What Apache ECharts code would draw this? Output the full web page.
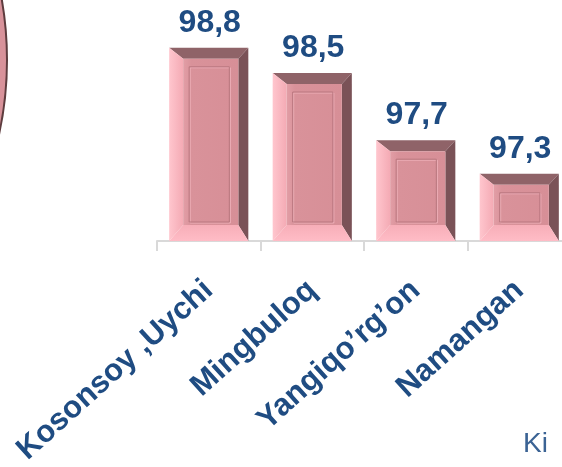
<!DOCTYPE html>
<html>
<head>
<meta charset="utf-8">
<title></title>
<style>
  html, body { margin: 0; padding: 0; background: #fff; }
  #chart { width: 562px; height: 467px; }
</style>
</head>
<body>
<div id="chart"></div>
<script src="https://cdn.jsdelivr.net/npm/echarts@6/dist/echarts.min.js"></script>
<script>
// data
var categories = ['Kosonsoy ,Uychi', 'Mingbuloq', 'Yangiqo\u2019rg\u2019on', 'Namangan'];
var values = [98.8, 98.5, 97.7, 97.3];
var yMin = 96.5, yMax = 99;

var blue = '#1f4c82';

// draws one bevelled "3d" bar plus its value on top
function renderBar(params, api) {
  var top = api.coord([api.value(0), api.value(1)]);
  var base = api.coord([api.value(0), yMin]);
  var w = api.size([1, 0])[0] * 0.765;
  var x0 = top[0] - w / 2, x1 = top[0] + w / 2;
  var y0 = top[1], y1 = base[1];
  // bevel faces
  var fx0 = x0 + 14, fx1 = x1 - 10, fy0 = y0 + 11, fy1 = y1 - 16;
  // recessed panel
  var ix0 = fx0 + 6, ix1 = fx1 - 9, iy0 = fy0 + 8, iy1 = fy1 - 3;
  var txt = api.value(1).toFixed(1).replace('.', ',');
  return {
    type: 'group',
    children: [
      { type: 'polygon', shape: { points: [[x0, y0], [x1, y0], [fx1, fy0], [fx0, fy0]] },
        style: { fill: '#8f6368' } },
      { type: 'polygon', shape: { points: [[x1, y0], [x1, y1], [fx1, fy1], [fx1, fy0]] },
        style: { fill: '#7a5257' } },
      { type: 'polygon', shape: { points: [[x0, y1], [x1, y1], [fx1, fy1], [fx0, fy1]] },
        style: { fill: new echarts.graphic.LinearGradient(0, 0, 0, 1, [
          { offset: 0, color: '#f7aeb8' }, { offset: 1, color: '#ffbcc6' }]) } },
      { type: 'polygon', shape: { points: [[x0, y0], [fx0, fy0], [fx0, fy1], [x0, y1]] },
        style: { fill: new echarts.graphic.LinearGradient(0, 0, 1, 0, [
          { offset: 0, color: '#ffc6ce' }, { offset: 1, color: '#f4aab4' }]) } },
      { type: 'rect', shape: { x: fx0, y: fy0, width: fx1 - fx0, height: fy1 - fy0 },
        style: { fill: new echarts.graphic.LinearGradient(0, 0, 1, 0, [
          { offset: 0, color: '#e29ea6' }, { offset: 0.15, color: '#d9929a' }, { offset: 1, color: '#d78f97' }]) } },
      { type: 'rect', shape: { x: ix0 + 1, y: iy0 + 1, width: ix1 - ix0, height: iy1 - iy0 },
        style: { fill: 'none', stroke: '#eeb0b8', lineWidth: 1 } },
      { type: 'rect', shape: { x: ix0, y: iy0, width: ix1 - ix0, height: iy1 - iy0 },
        style: { fill: 'none', stroke: '#b9777f', lineWidth: 1 } },
      { type: 'text', style: {
          text: txt, x: top[0] + 1, y: y0 - 9,
          align: 'center', verticalAlign: 'bottom',
          fontFamily: 'Liberation Sans, Arial, sans-serif', fontWeight: 'bold', fontSize: 32,
          fill: blue } }
    ]
  };
}

var option = {
  animation: false,
  grid: { left: 157, top: 31, width: 414, height: 210, containLabel: false, outerBoundsMode: 'none' },
  xAxis: {
    type: 'category',
    data: categories,
    axisLine: { lineStyle: { color: '#d9d9d9', width: 2 } },
    axisTick: { show: true, length: 10, lineStyle: { color: '#d9d9d9', width: 2 } },
    axisLabel: {
      rotate: 42, margin: 45, interval: 0,
      color: blue, fontWeight: 'bold', fontSize: 31,
      fontFamily: 'Liberation Sans, Arial, sans-serif'
    }
  },
  yAxis: { type: 'value', min: yMin, max: yMax, show: false, splitLine: { show: false } },
  series: [{
    type: 'custom',
    renderItem: renderBar,
    data: values.map(function (v, i) { return [i, v]; })
  }],
  graphic: [
    { type: 'circle', shape: { cx: -343, cy: 60, r: 350 },
      style: { fill: '#d8929a', stroke: '#5e3c3e', lineWidth: 2 } },
    { type: 'text', x: 523, y: 430,
      style: { text: 'Ki', fontSize: 28, fill: '#3b6394',
        fontFamily: 'Liberation Sans, Arial, sans-serif' } }
  ]
};

var chart = echarts.init(document.getElementById('chart'));
chart.setOption(option);
</script>
</body>
</html>
